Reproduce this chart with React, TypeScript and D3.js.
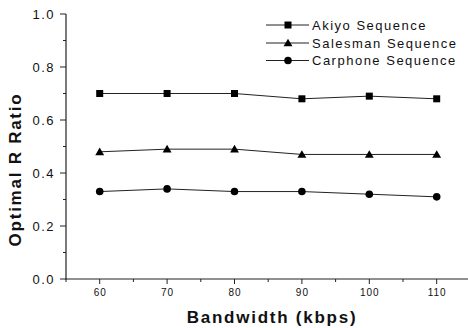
import React from "react";
import * as d3 from "d3";

const bandwidth = [60, 70, 80, 90, 100, 110];
const akiyo = [0.70, 0.70, 0.70, 0.68, 0.69, 0.68];
const salesman = [0.48, 0.49, 0.49, 0.47, 0.47, 0.47];
const carphone = [0.33, 0.34, 0.33, 0.33, 0.32, 0.31];
const seriesNames = ["Akiyo Sequence", "Salesman Sequence", "Carphone Sequence"];
const markers = ["square", "triangle", "circle"];
const yTicks = [0, 0.2, 0.4, 0.6, 0.8, 1.0];
const yMinor = [0.1, 0.3, 0.5, 0.7, 0.9];
const xTicks = [60, 70, 80, 90, 100, 110];
const xMinor = [55, 65, 75, 85, 95, 105, 115];

const W = 468, H = 328;
const FONT = "'Liberation Sans', Arial, sans-serif";

function Marker({ kind, x, y }: { kind: string; x: number; y: number }) {
  if (kind === "square") return <rect x={x - 3.5} y={y - 3.5} width={7} height={7} fill="#000" />;
  if (kind === "triangle") {
    const p = d3.symbol().type(d3.symbolTriangle).size(34)();
    return <path d={p || ""} transform={`translate(${x},${y + 0.8})`} fill="#000" />;
  }
  return <circle cx={x} cy={y} r={3.8} fill="#000" />;
}

export default function App() {
  const x = d3.scaleLinear().domain([55, 115]).range([66, 470.4]);
  const y = d3.scaleLinear().domain([0, 1]).range([279, 14]);
  const data = [akiyo, salesman, carphone];
  const line = d3.line<number>().x((_, i) => x(bandwidth[i])).y((v) => y(v));
  const legendY = [25, 43, 60.5];

  return (
    <svg width={W} height={H} style={{ position: "absolute", left: 0, top: 0, background: "#fff" }} fontFamily={FONT}>
      {/* axes */}
      <line x1={66} y1={y(1)} x2={66} y2={279.5} stroke="#222" strokeWidth={1.2} />
      <line x1={65.5} y1={279} x2={W} y2={279} stroke="#222" strokeWidth={1.2} />
      {yTicks.map((t) => (
        <g key={"yt" + t}>
          <line x1={60} x2={66} y1={y(t)} y2={y(t)} stroke="#222" strokeWidth={1} />
          <text x={55} y={y(t)} dy="0.36em" textAnchor="end" fontSize={13} letterSpacing={1.5} fill="#111">
            {t.toFixed(1)}
          </text>
        </g>
      ))}
      {yMinor.map((t) => (
        <line key={"ym" + t} x1={63} x2={66} y1={y(t)} y2={y(t)} stroke="#222" strokeWidth={1} />
      ))}
      {xTicks.map((t) => (
        <g key={"xt" + t}>
          <line x1={x(t)} x2={x(t)} y1={279} y2={284} stroke="#222" strokeWidth={1} />
          <text x={x(t) + 0.5} y={295.5} textAnchor="middle" fontSize={10} letterSpacing={1} fill="#111">
            {t}
          </text>
        </g>
      ))}
      {xMinor.map((t) => (
        <line key={"xm" + t} x1={x(t)} x2={x(t)} y1={279} y2={282} stroke="#222" strokeWidth={1} />
      ))}
      {/* titles */}
      <text x={272} y={322.5} textAnchor="middle" fontSize={17} fontWeight="bold" letterSpacing={1.75} fill="#111">
        Bandwidth (kbps)
      </text>
      <text transform="translate(21,169.5) rotate(-90)" textAnchor="middle" fontSize={17} fontWeight="bold" letterSpacing={1.75} fill="#111">
        Optimal R Ratio
      </text>
      {/* series */}
      {data.map((s, si) => (
        <g key={"s" + si}>
          <path d={line(s) || ""} fill="none" stroke="#222" strokeWidth={1} />
          {s.map((v, i) => (
            <Marker key={i} kind={markers[si]} x={x(bandwidth[i])} y={y(v)} />
          ))}
        </g>
      ))}
      {/* legend */}
      {seriesNames.map((n, i) => (
        <g key={"l" + i}>
          <line x1={266} x2={309} y1={legendY[i]} y2={legendY[i]} stroke="#222" strokeWidth={1} />
          <Marker kind={markers[i]} x={288} y={legendY[i]} />
          <text x={312} y={legendY[i]} dy="0.36em" fontSize={13} letterSpacing={1.5} fill="#111">
            {n}
          </text>
        </g>
      ))}
    </svg>
  );
}
